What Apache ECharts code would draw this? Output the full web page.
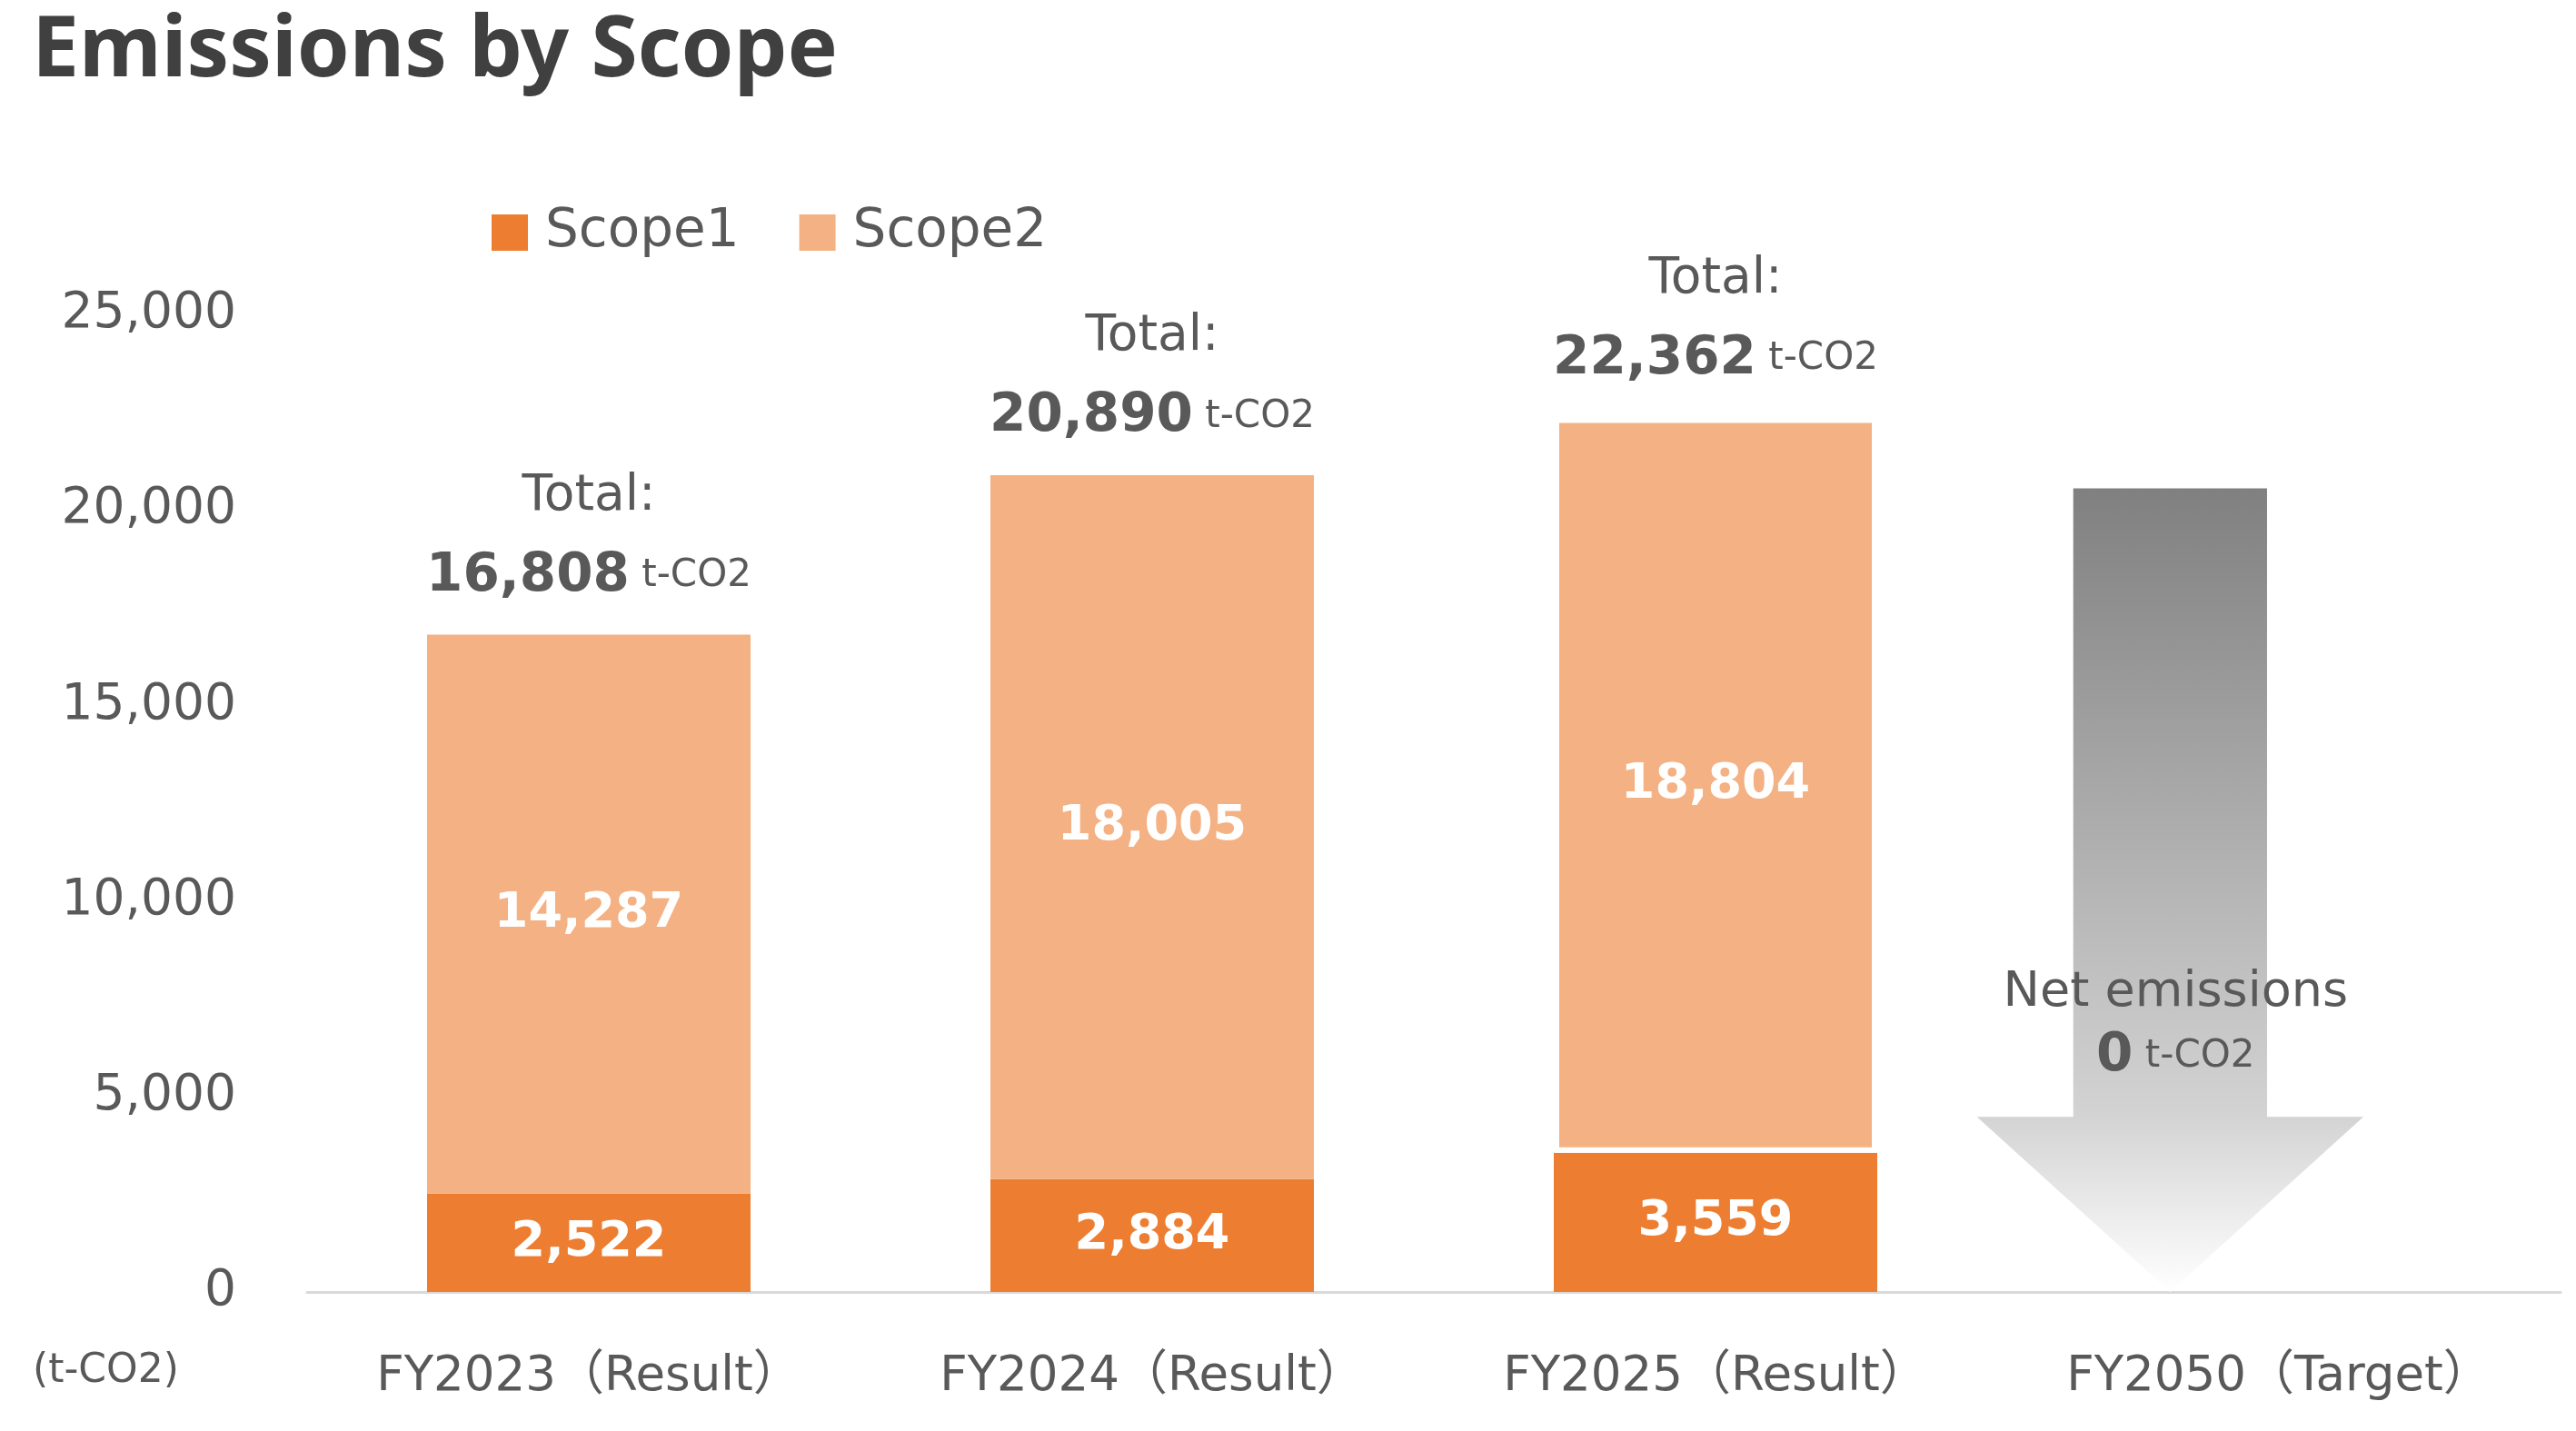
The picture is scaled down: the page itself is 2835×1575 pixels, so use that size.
<!DOCTYPE html>
<html>
<head>
<meta charset="utf-8">
<script src="https://cdn.jsdelivr.net/npm/echarts@6/dist/echarts.min.js"></script>
<style>
html, body { margin: 0; padding: 0; background: #fff; }
#myEchart { width: 2835px; height: 1575px; }
</style>
</head>
<body>
<div id="myEchart"></div>
<script>
var categories = ['FY2023（Result）', 'FY2024（Result）', 'FY2025（Result）', 'FY2050（Target）'];
var scope1 = [2522, 2884, 3559, null];
var scope2 = [14287, 18005, 18804, null];
var totals = [16808, 20890, 22362, null];
var netTarget = 0;
// target arrow for FY2050, in axis values
var arrowTop = 20550;
var arrowHeadStart = 4480;
var yMax = 25000;
var yStep = 5000;

var FONT = '"DejaVu Sans", "Noto Sans CJK JP", sans-serif';
var TITLE_FONT = '"Noto Sans", "DejaVu Sans", sans-serif';
var GRAY = '#595959';

function fmt(v) {
    return Number(v).toLocaleString('en-US');
}

var myChart = echarts.init(document.getElementById('myEchart'));

myChart.setOption({
    animation: false,
    textStyle: { fontFamily: FONT },
    title: {
        text: 'Emissions by Scope',
        left: 30,
        top: 6,
        textStyle: { fontSize: 93, fontWeight: 'bold', color: '#404040', fontFamily: TITLE_FONT }
    },
    legend: {
        data: ['Scope1', 'Scope2'],
        left: 536,
        top: 222,
        icon: 'rect',
        itemWidth: 40,
        itemHeight: 40,
        itemGap: 66,
        textStyle: { fontSize: 58, color: GRAY, fontFamily: FONT, padding: [0, 0, 0, 14] }
    },
    grid: {
        left: 338,
        right: 17,
        top: 346,
        bottom: 153,
        containLabel: false
    },
    graphic: [{
        type: 'text',
        left: 36,
        top: 1488,
        style: { text: '(t-CO2)', fontSize: 44, fill: GRAY, fontFamily: FONT }
    }],
    xAxis: {
        type: 'category',
        data: categories,
        axisLine: { lineStyle: { color: '#d9d9d9', width: 3 } },
        axisTick: { show: false },
        axisLabel: { fontSize: 53, color: GRAY, margin: 68, fontFamily: FONT }
    },
    yAxis: {
        type: 'value',
        min: 0,
        max: yMax,
        interval: yStep,
        axisLine: { show: false },
        axisTick: { show: false },
        splitLine: { show: false },
        axisLabel: {
            fontSize: 55,
            color: GRAY,
            margin: 78,
            fontFamily: FONT,
            formatter: function(v) { return fmt(v); }
        }
    },
    series: [{
        name: 'Scope1',
        type: 'bar',
        stack: 'total',
        barWidth: 356,
        itemStyle: { color: '#ED7D31' },
        label: {
            show: true,
            position: 'inside',
            color: '#fff',
            fontSize: 54,
            fontWeight: 'bold',
            fontFamily: FONT,
            formatter: function(p) { return fmt(p.value); }
        },
        data: scope1
    }, {
        name: 'Scope2',
        type: 'bar',
        stack: 'total',
        barWidth: 356,
        itemStyle: { color: '#F4B183' },
        label: {
            show: true,
            position: 'inside',
            color: '#fff',
            fontSize: 54,
            fontWeight: 'bold',
            fontFamily: FONT,
            formatter: function(p) { return fmt(p.value); }
        },
        data: scope2.map(function(v, i) {
            if (i == 2) {
                return { value: v, itemStyle: { borderColor: '#fff', borderWidth: 6 } };
            }
            return v;
        })
    }, {
        // invisible carrier for the "Total:" labels above each stack
        name: 'Total',
        type: 'bar',
        barGap: '-100%',
        barWidth: 356,
        silent: true,
        z: 1,
        itemStyle: { color: 'rgba(0,0,0,0)' },
        label: {
            show: true,
            position: 'top',
            distance: 20,
            formatter: function(p) {
                return '{t|Total:}\n{n|' + fmt(p.value) + '}{u| t-CO2}';
            },
            rich: {
                t: { fontSize: 55, color: GRAY, lineHeight: 88, fontFamily: FONT },
                n: { fontSize: 58, color: GRAY, fontWeight: 'bold', lineHeight: 88, fontFamily: FONT },
                u: { fontSize: 42, color: GRAY, lineHeight: 88, fontFamily: FONT }
            }
        },
        data: totals
    }, {
        name: 'Target',
        type: 'custom',
        data: [[3, arrowTop, arrowHeadStart, netTarget]],
        renderItem: function(params, api) {
            var top = api.coord([api.value(0), api.value(1)]);
            var neck = api.coord([api.value(0), api.value(2)]);
            var base = api.coord([api.value(0), 0]);
            var txt = api.coord([api.value(0), 6830]);
            var band = api.size([1, 0])[0];
            var cx = top[0] - 0.193 * band;
            var sh = 0.172 * band;
            var hh = 0.343 * band;
            var pts = [
                [cx - sh, top[1]], [cx + sh, top[1]], [cx + sh, neck[1]],
                [cx + hh, neck[1]], [cx, base[1]], [cx - hh, neck[1]], [cx - sh, neck[1]]
            ];
            return {
                type: 'group',
                children: [{
                    type: 'polygon',
                    shape: { points: pts },
                    style: {
                        fill: new echarts.graphic.LinearGradient(0, 0, 0, 1, [
                            { offset: 0, color: '#808080' },
                            { offset: 0.78, color: '#d3d3d3' },
                            { offset: 1, color: '#ffffff' }
                        ])
                    }
                }, {
                    type: 'text',
                    z2: 10,
                    style: {
                        x: cx + 6,
                        y: txt[1],
                        align: 'center',
                        verticalAlign: 'middle',
                        text: '{a|Net emissions}\n{b|' + fmt(api.value(3)) + '}{u| t-CO2}',
                        rich: {
                            a: { fontSize: 54, fill: GRAY, lineHeight: 70, fontFamily: FONT },
                            b: { fontSize: 58, fill: GRAY, fontWeight: 'bold', lineHeight: 70, fontFamily: FONT },
                            u: { fontSize: 42, fill: GRAY, lineHeight: 70, fontFamily: FONT }
                        }
                    }
                }]
            };
        }
    }]
});
</script>
</body>
</html>
